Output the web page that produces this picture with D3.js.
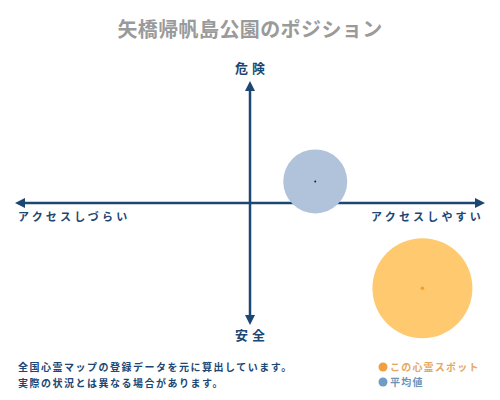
<!DOCTYPE html>
<html>
<head>
<meta charset="utf-8">
<script src="https://cdn.jsdelivr.net/npm/d3@7"></script>
<style>
  body { margin: 0; background: #fff; }
  text { font-family: "Noto Sans CJK JP", sans-serif; }
</style>
</head>
<body>
<div id="chart"></div>
<script>
// data (0-100 scale, 50 = centre of each axis)
const seriesNames = ["この心霊スポット", "平均値"];
const accessValues = [87, 64];   // x: アクセスしづらい -> アクセスしやすい
const dangerValues = [14.5, 59]; // y: 安全 -> 危険
const axisLabels = { top: "危険", bottom: "安全", left: "アクセスしづらい", right: "アクセスしやすい" };
const noteLines = ["全国心霊マップの登録データを元に算出しています。", "実際の状況とは異なる場合があります。"];

const width = 500, height = 400;
const navy = "#1d4773";

const svg = d3.select("#chart").append("svg")
    .attr("width", width)
    .attr("height", height);

const x = d3.scaleLinear().domain([0, 100]).range([17, 483]);
const y = d3.scaleLinear().domain([0, 100]).range([323, 83]);

// =========================
// TITLE
// =========================
svg.append("text")
    .attr("x", width / 2)
    .attr("y", 37)
    .attr("text-anchor", "middle")
    .attr("fill", "#9a9a9a")
    .style("font-size", "20px")
    .style("font-weight", "bold")
    .style("letter-spacing", "0.4px")
    .text("矢橋帰帆島公園のポジション");

// =========================
// AXES (arrows)
// =========================
const defs = svg.append("defs");
defs.append("marker")
    .attr("id", "arrow")
    .attr("viewBox", "0 0 10 10")
    .attr("refX", 5).attr("refY", 5)
    .attr("markerWidth", 4).attr("markerHeight", 4)
    .attr("orient", "auto-start-reverse")
    .append("path")
    .attr("d", "M0,0 L10,5 L0,10 z")
    .attr("fill", navy);

svg.append("line")
    .attr("x1", x(0) + 3).attr("x2", x(100) - 3)
    .attr("y1", y(50)).attr("y2", y(50))
    .attr("stroke", navy).attr("stroke-width", 2.5)
    .attr("marker-start", "url(#arrow)")
    .attr("marker-end", "url(#arrow)");

svg.append("line")
    .attr("x1", x(50)).attr("x2", x(50))
    .attr("y1", y(100) + 3).attr("y2", y(0) - 3)
    .attr("stroke", navy).attr("stroke-width", 2.5)
    .attr("marker-start", "url(#arrow)")
    .attr("marker-end", "url(#arrow)");

// =========================
// AXIS LABELS
// =========================
svg.append("text")
    .attr("x", x(50) + 2).attr("y", 73)
    .attr("text-anchor", "middle")
    .attr("fill", navy)
    .style("font-size", "13px").style("font-weight", "bold")
    .style("letter-spacing", "4px")
    .text(axisLabels.top);

svg.append("text")
    .attr("x", x(50) + 2).attr("y", 340)
    .attr("text-anchor", "middle")
    .attr("fill", navy)
    .style("font-size", "13px").style("font-weight", "bold")
    .style("letter-spacing", "4px")
    .text(axisLabels.bottom);

svg.append("text")
    .attr("x", 18).attr("y", 221)
    .attr("fill", navy)
    .style("font-size", "11px").style("font-weight", "bold")
    .style("letter-spacing", "3.2px")
    .text(axisLabels.left);

svg.append("text")
    .attr("x", 484).attr("y", 221)
    .attr("text-anchor", "end")
    .attr("fill", navy)
    .style("font-size", "11px").style("font-weight", "bold")
    .style("letter-spacing", "3.2px")
    .text(axisLabels.right);

// =========================
// BUBBLES
// =========================
const points = seriesNames.map((name, i) => ({ name, ax: accessValues[i], dg: dangerValues[i] }));
const bubbleFill = { "この心霊スポット": "#fec96f", "平均値": "#b0c3da" };
const bubbleR = { "この心霊スポット": 50, "平均値": 32 };
const dotFill = { "この心霊スポット": "#f0a030", "平均値": "#222" };

const bubbles = svg.selectAll("g.bubble")
    .data(points.slice().reverse())
    .enter()
    .append("g")
    .attr("class", "bubble");

bubbles.append("circle")
    .attr("cx", d => x(d.ax))
    .attr("cy", d => y(d.dg))
    .attr("r", d => bubbleR[d.name])
    .attr("fill", d => bubbleFill[d.name]);

bubbles.append("circle")
    .attr("cx", d => x(d.ax))
    .attr("cy", d => y(d.dg))
    .attr("r", d => d.name === "平均値" ? 1 : 1.8)
    .attr("fill", d => dotFill[d.name]);

// =========================
// NOTES
// =========================
noteLines.forEach((line, i) => {
    svg.append("text")
        .attr("x", 18).attr("y", 371 + i * 16)
        .attr("fill", navy)
        .style("font-size", "10px").style("font-weight", "bold")
        .style("letter-spacing", "1.5px")
        .text(line);
});

// =========================
// LEGEND
// =========================
const legendColors = [
    { dot: "#f0a040", text: "#e6a860" },
    { dot: "#6f9cc4", text: "#6e93b8" }
];
seriesNames.forEach((name, i) => {
    const g = svg.append("g").attr("transform", `translate(383, ${367 + i * 15})`);
    g.append("circle").attr("r", 4.5).attr("fill", legendColors[i].dot);
    g.append("text")
        .attr("x", 7).attr("y", 4)
        .attr("fill", legendColors[i].text)
        .style("font-size", "10px").style("font-weight", "bold")
        .style("letter-spacing", "1.2px")
        .text(name);
});
</script>
</body>
</html>
